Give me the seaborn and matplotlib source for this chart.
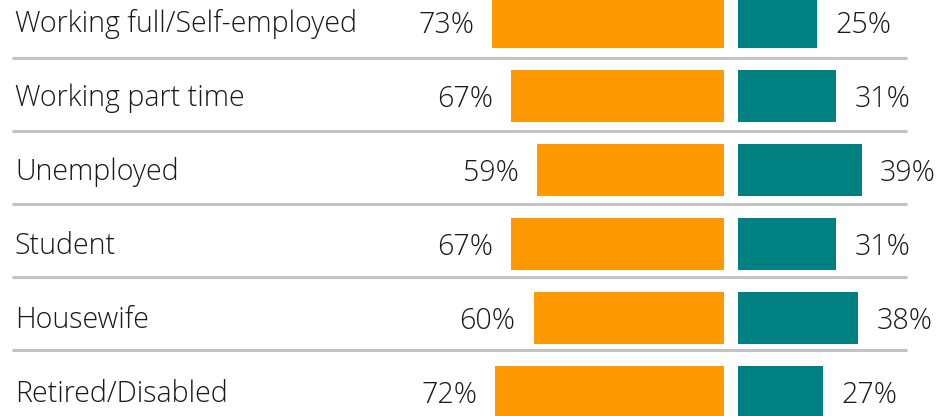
import matplotlib
matplotlib.use("Agg")
import matplotlib.pyplot as plt
import seaborn as sns
import pandas as pd

categories = ["Working full/Self-employed", "Working part time", "Unemployed",
              "Student", "Housewife", "Retired/Disabled"]
orange_vals = [73, 67, 59, 67, 60, 72]
teal_vals = [25, 31, 39, 31, 38, 27]

ORANGE = "#FF9900"
TEAL = "#008080"
TEXT = "#1a1a1a"
LINE = "#c4c4c4"

sns.set_theme(style="white")
plt.rcParams["font.family"] = ["Open Sans", "DejaVu Sans"]

fig = plt.figure(figsize=(9.53, 4.16), dpi=100)
ax = fig.add_axes([0, 0, 1, 1])

px = 3.18          # pixels per percent
center_px = 731
gap = 6.6 / px     # half gap between bars, data units

df = pd.DataFrame({"cat": categories, "orange": [-v for v in orange_vals], "teal": teal_vals})

sns.barplot(data=df, y="cat", x="orange", color=ORANGE, orient="h", width=0.705,
            left=-gap, linewidth=0, saturation=1, ax=ax)
sns.barplot(data=df, y="cat", x="teal", color=TEAL, orient="h", width=0.705,
            left=gap, linewidth=0, saturation=1, ax=ax)

xmin = -center_px / px
xmax = (953 - center_px) / px
ax.set_xlim(xmin, xmax)
ax.set_ylim((416 - 22) / 74, -22 / 74)
ax.axis("off")

fs = 20.6
off = 18 / px
for i, (c, o, t) in enumerate(zip(categories, orange_vals, teal_vals)):
    ax.text((15 - center_px) / px, i + 0.03, c, ha="left", va="center", fontsize=fs,
            color=TEXT, fontweight="light")
    ax.text(-gap - o - off, i + 0.05, f"{o}%", ha="right", va="center", fontsize=fs,
            color=TEXT, fontweight="light")
    ax.text(gap + t + off, i + 0.05, f"{t}%", ha="left", va="center", fontsize=fs,
            color=TEXT, fontweight="light")

# separators between rows
for k in range(len(categories) - 1):
    yk = 0.486 + k * 0.986
    ax.plot([(12 - center_px) / px, (907 - center_px) / px], [yk, yk],
            color=LINE, linewidth=2.2, solid_capstyle="butt")

fig.savefig("out.png", dpi=100)
